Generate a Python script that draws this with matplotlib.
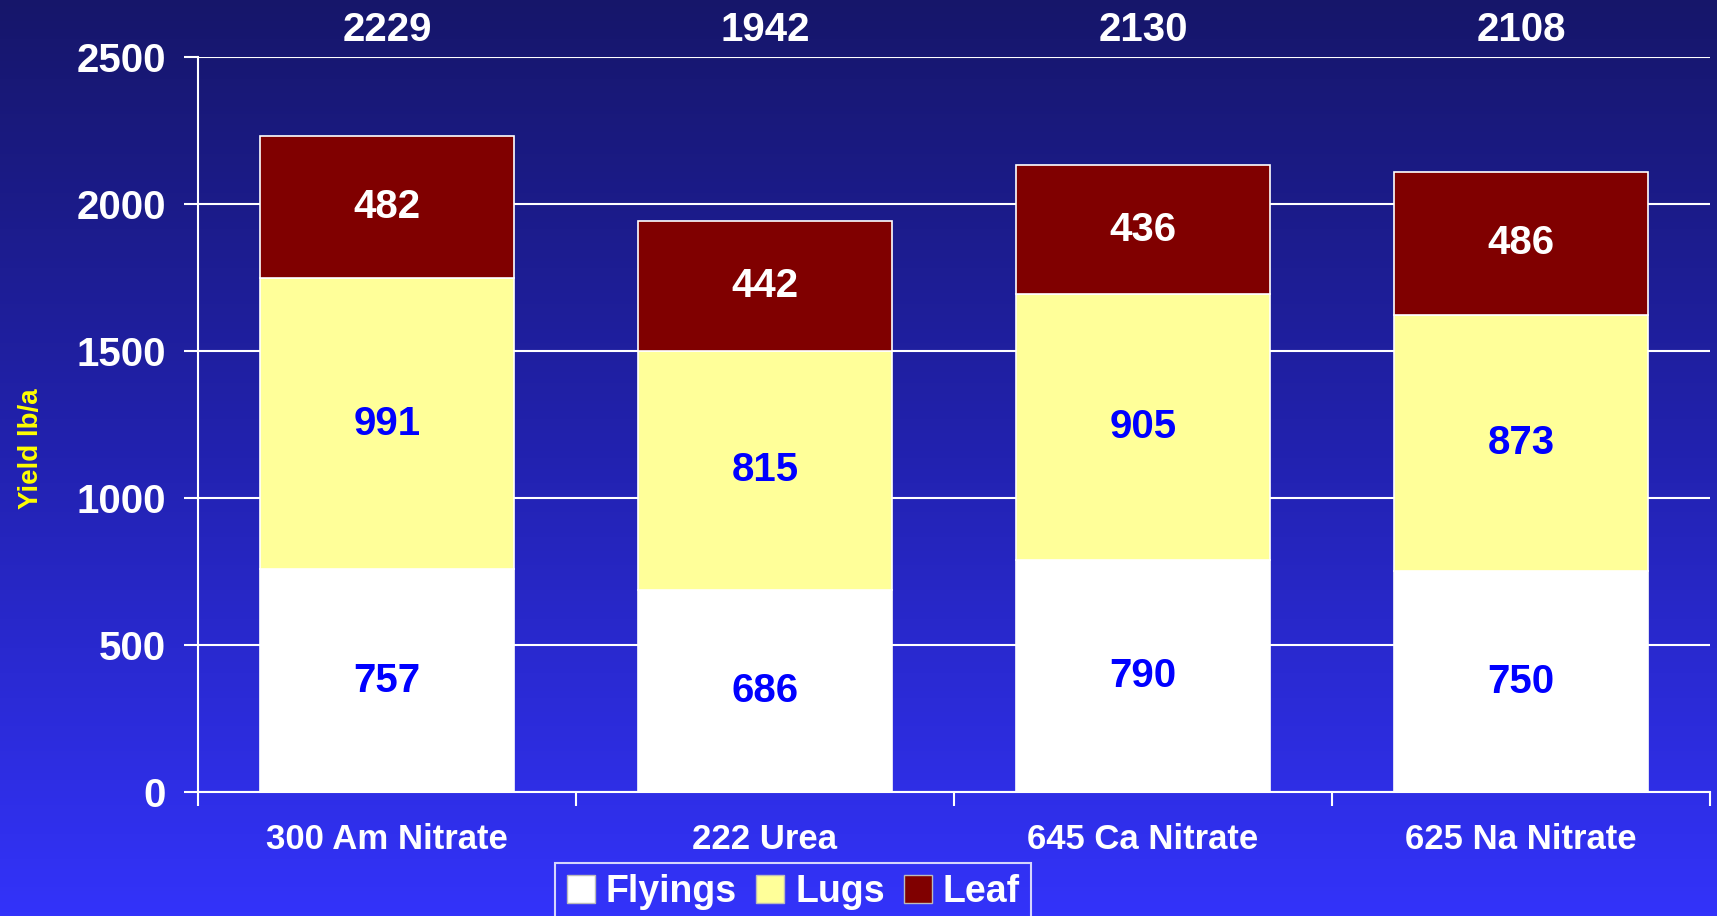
import numpy as np
import matplotlib
matplotlib.use("Agg")
import matplotlib.pyplot as plt
from matplotlib.colors import LinearSegmentedColormap
from matplotlib.patches import Patch

plt.rcParams['font.family'] = ['Liberation Sans', 'DejaVu Sans']
plt.rcParams['font.weight'] = 'bold'

categories = ['300 Am Nitrate', '222 Urea', '645 Ca Nitrate', '625 Na Nitrate']
flyings = [757, 686, 790, 750]
lugs = [991, 815, 905, 873]
leaf = [482, 442, 436, 486]
totals = [2229, 1942, 2130, 2108]
series_names = ['Flyings', 'Lugs', 'Leaf']
series_colors = ['#FFFFFF', '#FFFF99', '#800000']
label_colors = ['#0000FF', '#0000FF', '#FFFFFF']

fig = plt.figure(figsize=(17.17, 9.16), dpi=100)

# gradient background
bg = fig.add_axes([0, 0, 1, 1], zorder=-10)
cmap = LinearSegmentedColormap.from_list('bg', ['#16166A', '#2222B0', '#3333FA'])
grad = np.linspace(0, 1, 256).reshape(-1, 1)
bg.imshow(grad, aspect='auto', cmap=cmap, extent=[0, 1, 0, 1])
bg.axis('off')

ax = fig.add_axes([0.1153, 0.1354, 0.8806, 0.8024])
ax.set_facecolor('none')

x = np.arange(len(categories))
width = 0.67
bottom = np.zeros(len(categories))
for vals, name, col, lcol in zip([flyings, lugs, leaf], series_names, series_colors, label_colors):
    vals = np.array(vals)
    ax.bar(x, vals, width, bottom=bottom, color=col, edgecolor='white', linewidth=1.2, zorder=3)
    for xi, b, v in zip(x, bottom, vals):
        ax.text(xi, b + v / 2, str(v), ha='center', va='center', color=lcol,
                fontsize=29, fontweight='bold', zorder=4)
    bottom = bottom + vals

for xi, t in zip(x, totals):
    ax.text(xi, 2593, str(t), ha='center', va='center', color='white',
            fontsize=29, fontweight='bold', clip_on=False)

ax.set_xlim(-0.5, len(categories) - 0.5)
ax.set_ylim(0, 2500)
ax.set_yticks(np.arange(0, 2501, 500))
ax.yaxis.grid(True, color='white', linewidth=1.5, zorder=0)
ax.set_axisbelow(True)

ax.set_xticks(x)
ax.set_xticklabels(categories)
ax.set_xticks(np.arange(-0.5, len(categories)), minor=True)
ax.tick_params(axis='x', which='major', length=0, pad=22, labelsize=25, labelcolor='white')
ax.tick_params(axis='x', which='minor', length=10, width=1.5, color='white', direction='out')
ax.tick_params(axis='y', length=10, width=1.5, color='white', pad=13, labelsize=29, labelcolor='white')
for lbl in ax.get_xticklabels() + ax.get_yticklabels():
    lbl.set_fontweight('bold')

for s in ['top', 'right']:
    ax.spines[s].set_visible(False)
for s in ['left', 'bottom']:
    ax.spines[s].set_color('white')
    ax.spines[s].set_linewidth(1.5)

fig.text(0.018, 0.51, 'Yield lb/a', rotation=90, ha='center', va='center',
         color='#FFFF00', fontsize=20, fontweight='bold')

handles = [Patch(facecolor=c, edgecolor='#BBBBBB', linewidth=1) for c in series_colors]
leg = fig.legend(handles, series_names, loc='upper center', bbox_to_anchor=(0.462, 0.058),
                 ncol=3, frameon=True, fancybox=False, handlelength=0.75,
                 handleheight=0.75, handletextpad=0.3, columnspacing=0.5, borderpad=0.3,
                 borderaxespad=0, labelcolor='white', prop={'weight': 'bold', 'size': 27})
leg.get_frame().set_facecolor('none')
leg.get_frame().set_edgecolor('white')
leg.get_frame().set_linewidth(1.5)

fig.savefig('out.png', dpi=100)
